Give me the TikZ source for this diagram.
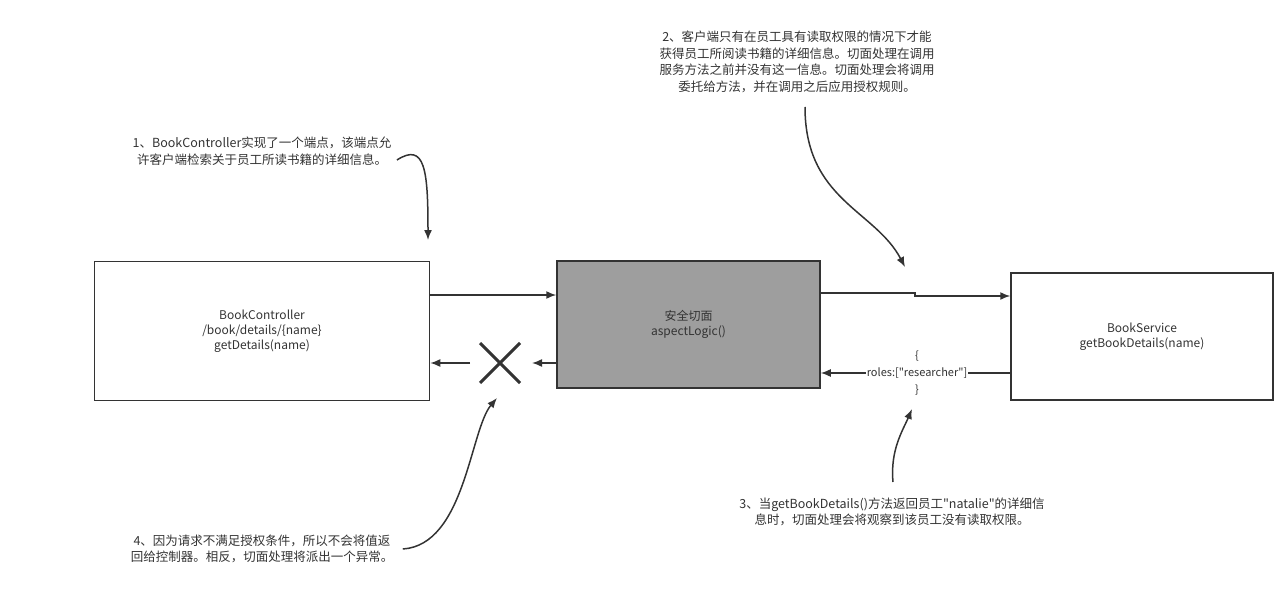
\documentclass[tikz,border=0pt]{standalone}
\usepackage{fontspec}
\setmainfont{Noto Sans CJK SC}[Ligatures=TeXOff]
\usetikzlibrary{arrows.meta,positioning,calc}
\definecolor{ink}{HTML}{333333}
\definecolor{aspectgray}{HTML}{9E9E9E}
\tikzset{
	box/.style={draw=ink,line width=1.5pt,minimum width=335pt,minimum height=139pt,align=center,text=ink,font=\fontsize{12}{15}\selectfont},
	note/.style={align=center,text=ink,font=\fontsize{12.5}{16.5}\selectfont},
	arr/.style={draw=ink,line width=1.5pt,-{Latex[length=10pt,width=8pt]}},
	plain/.style={draw=ink,line width=1.5pt}
}
\begin{document}
\begin{tikzpicture}[x=1pt,y=-1pt]
	\useasboundingbox (0,0) rectangle (1287,607);
%
	\node[box] (ctrl) at (262,331) {BookController\\/book/details/\{name\}\\getDetails(name)};
	\node[box,fill=aspectgray,minimum width=263pt,minimum height=127pt] (asp) at (688.5,324.5) {安全切面\\aspectLogic()};
	\node[box,minimum width=262pt,minimum height=127pt] (svc) at (1142,336.5) {BookService\\getBookDetails(name)};
	\node[text=ink,align=center,inner sep=1pt,font=\fontsize{11}{17}\selectfont] (roles) at (917,373) {\{\\roles:["researcher"]\\\}};
%
	\draw[arr] (ctrl.east |- 0,295) -- (asp.west |- 0,295);
	\draw[arr] (asp.east |- 0,293) -- (915,293) -- (915,296) -- (svc.west |- 0,296);
	\draw[plain] (svc.west |- roles) -- (roles.east);
	\draw[arr] (roles.west) -- (asp.east |- roles);
%
	\coordinate (cross) at (500,363);
	\draw[ink,line width=3pt] ($(cross)+(-20,-20)$) -- ($(cross)+(20,20)$);
	\draw[ink,line width=3pt] ($(cross)+(-20,20)$) -- ($(cross)+(20,-20)$);
	\draw[arr] (asp.west |- cross) -- (532,363);
	\draw[arr] (470,363) -- (ctrl.east |- cross);
%
	\node[note] (n1) at (262,151) {1、BookController实现了一个端点，该端点允\\许客户端检索关于员工所读书籍的详细信息。};
	\node[note] (n2) at (797,62) {2、客户端只有在员工具有读取权限的情况下才能\\获得员工所阅读书籍的详细信息。切面处理在调用\\服务方法之前并没有这一信息。切面处理会将调用\\委托给方法，并在调用之后应用授权规则。};
	\node[note] (n3) at (892,512) {3、当getBookDetails()方法返回员工"natalie"的详细信\\息时，切面处理会将观察到该员工没有读取权限。};
	\node[note] (n4) at (262,549) {4、因为请求不满足授权条件，所以不会将值返\\回给控制器。相反，切面处理将派出一个异常。};
%
	\coordinate (t1) at (428,240);
	\coordinate (t2) at (905,267);
	\coordinate (t3) at (912,409);
	\coordinate (t4) at (497,398);
	\draw[arr] ([xshift=2pt,yshift=-9pt]n1.east) .. controls (425,142) and (428,170) .. (t1);
	\draw[arr] (805,107) .. controls (805,200) and (875,210) .. (t2);
	\draw[arr] (893,482) .. controls (890,450) and (903,430) .. (t3);
	\draw[arr] ([xshift=6pt]n4.east) .. controls (465,545) and (470,430) .. (t4);
\end{tikzpicture}
\end{document}
